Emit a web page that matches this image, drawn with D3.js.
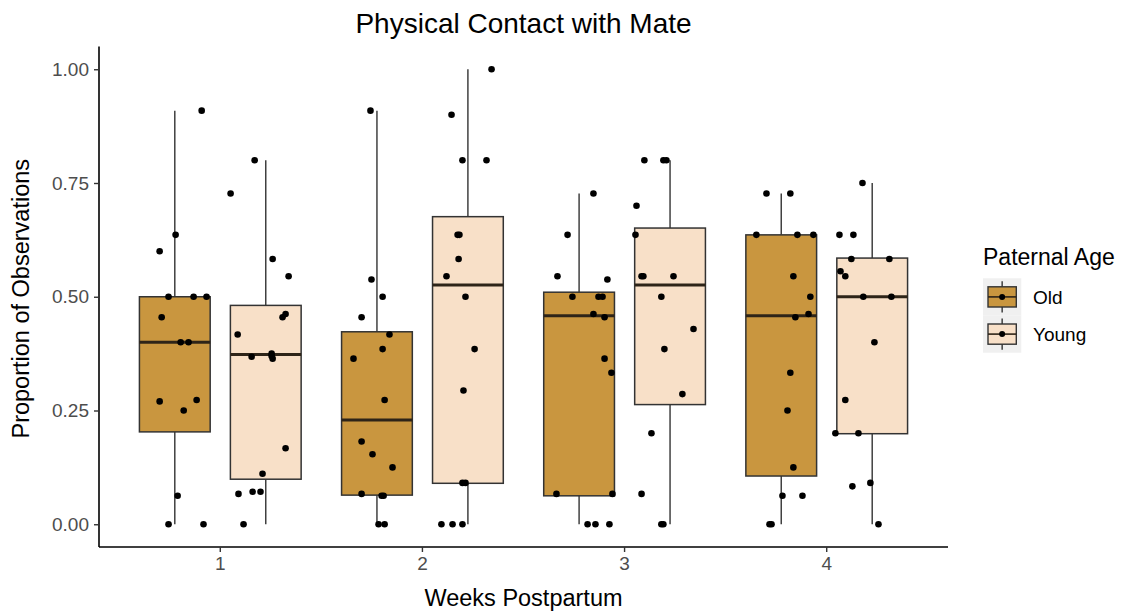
<!DOCTYPE html>
<html>
<head>
<meta charset="utf-8">
<script src="https://cdn.jsdelivr.net/npm/d3@7"></script>
<style>
  html, body { margin: 0; padding: 0; background: #ffffff; }
  svg { display: block; font-family: "Liberation Sans", Arial, sans-serif; }
</style>
</head>
<body>
<svg id="chart" width="1125" height="614"></svg>
<script>
// ---- data ----------------------------------------------------------------
const weeks = ["1", "2", "3", "4"];
const groups = ["Old", "Young"];
const groupColors = ["#C9963F", "#F8E0C8"];
const yTicks = [0, 0.25, 0.5, 0.75, 1.0];

// box summaries per week: lower whisker, Q1, median, Q3, upper whisker
const oldLow    = [0, 0, 0, 0];
const oldQ1     = [0.203, 0.064, 0.0625, 0.106];
const oldMedian = [0.40, 0.229, 0.458, 0.458];
const oldQ3     = [0.50, 0.423, 0.51, 0.636];
const oldHigh   = [0.909, 0.909, 0.727, 0.727];

const youngLow    = [0, 0, 0, 0];
const youngQ1     = [0.099, 0.090, 0.263, 0.199];
const youngMedian = [0.373, 0.526, 0.526, 0.50];
const youngQ3     = [0.481, 0.676, 0.651, 0.585];
const youngHigh   = [0.80, 1.0, 0.80, 0.75];

// individual observations (proportion) with their horizontal jitter (in week units)
const oldW1 = [0.909, 0.636, 0.60, 0.50, 0.50, 0.50, 0.455, 0.40, 0.40, 0.27, 0.273, 0.25, 0.0625, 0, 0];
const oldW1Jit = [0.133, 0.004, -0.075, -0.031, 0.093, 0.157, -0.065, 0.029, 0.068, -0.075, 0.108, 0.044, 0.014, -0.031, 0.142];
const youngW1 = [0.80, 0.727, 0.583, 0.545, 0.455, 0.462, 0.417, 0.368, 0.375, 0.364, 0.37, 0.167, 0.111, 0.0667, 0.0714, 0.0714, 0];
const youngW1Jit = [-0.055, -0.174, 0.034, 0.113, 0.083, 0.098, -0.139, -0.070, 0.029, 0.034, 0.029, 0.098, -0.016, -0.135, -0.065, -0.026, -0.110];

const oldW2 = [0.909, 0.538, 0.50, 0.455, 0.417, 0.385, 0.364, 0.273, 0.182, 0.154, 0.125, 0.0667, 0.0625, 0.0625, 0, 0];
const oldW2Jit = [-0.032, -0.027, 0.028, -0.076, 0.062, 0.028, -0.116, 0.038, -0.076, -0.022, 0.077, -0.076, 0.023, 0.033, 0.008, 0.038];
const youngW2 = [1.0, 0.90, 0.80, 0.80, 0.636, 0.636, 0.583, 0.545, 0.50, 0.385, 0.294, 0.0909, 0.0909, 0, 0, 0];
const youngW2Jit = [0.117, -0.081, -0.027, 0.092, -0.051, -0.042, -0.046, -0.106, -0.012, 0.033, -0.022, -0.027, -0.012, -0.131, -0.076, -0.027];

const oldW3 = [0.727, 0.636, 0.545, 0.538, 0.50, 0.50, 0.50, 0.462, 0.455, 0.364, 0.333, 0.0667, 0.0667, 0, 0, 0];
const oldW3Jit = [0.071, -0.057, -0.107, 0.140, -0.033, 0.096, 0.116, 0.071, 0.126, 0.126, 0.160, -0.112, 0.165, 0.042, 0.081, 0.150];
const youngW3 = [0.80, 0.80, 0.80, 0.70, 0.636, 0.545, 0.545, 0.545, 0.50, 0.429, 0.385, 0.286, 0.20, 0.0667, 0, 0];
const youngW3Jit = [-0.127, -0.033, -0.018, -0.166, -0.171, -0.141, -0.132, 0.017, -0.043, 0.116, -0.028, 0.061, -0.092, -0.141, -0.043, -0.033];

const oldW4 = [0.727, 0.727, 0.636, 0.636, 0.636, 0.545, 0.50, 0.455, 0.462, 0.333, 0.25, 0.125, 0.0625, 0.0625, 0, 0];
const oldW4Jit = [-0.073, 0.045, -0.123, 0.080, 0.159, 0.060, 0.144, 0.070, 0.135, 0.045, 0.031, 0.060, 0.006, 0.105, -0.058, -0.048];
const youngW4 = [0.75, 0.636, 0.636, 0.583, 0.583, 0.556, 0.545, 0.50, 0.50, 0.40, 0.273, 0.20, 0.20, 0.0833, 0.0909, 0];
const youngW4Jit = [-0.048, -0.162, -0.093, -0.103, 0.085, -0.157, -0.133, -0.044, 0.095, 0.011, -0.133, -0.182, -0.068, -0.098, -0.009, 0.031];

// ---- assemble -----------------------------------------------------------
const boxStats = {
  Old:   { low: oldLow, q1: oldQ1, med: oldMedian, q3: oldQ3, high: oldHigh },
  Young: { low: youngLow, q1: youngQ1, med: youngMedian, q3: youngQ3, high: youngHigh }
};
const pointSets = {
  Old:   [[oldW1, oldW1Jit], [oldW2, oldW2Jit], [oldW3, oldW3Jit], [oldW4, oldW4Jit]],
  Young: [[youngW1, youngW1Jit], [youngW2, youngW2Jit], [youngW3, youngW3Jit], [youngW4, youngW4Jit]]
};

const boxes = [];
const points = [];
groups.forEach(g => {
  weeks.forEach((w, i) => {
    const s = boxStats[g];
    boxes.push({ week: w, group: g, low: s.low[i], q1: s.q1[i], med: s.med[i], q3: s.q3[i], high: s.high[i] });
    const [vals, jit] = pointSets[g][i];
    vals.forEach((v, k) => points.push({ week: w, group: g, value: v, jitter: jit[k] }));
  });
});

// ---- layout --------------------------------------------------------------
const svg = d3.select("#chart");
const panel = { left: 99, right: 948, top: 46.5, bottom: 547 };

const x = d3.scaleBand()
  .domain(weeks)
  .range([panel.left, panel.right])
  .paddingInner(0)
  .paddingOuter(0.1);
const step = x.step();

// dodge inside each week (total dodge width 0.9 of a week)
const xg = d3.scaleBand()
  .domain(groups)
  .range([0.05 * step, 0.95 * step]);
const boxWidth = 0.35 * step;

const y = d3.scaleLinear()
  .domain([-0.05, 1.05])
  .range([panel.bottom, panel.top]);

const color = d3.scaleOrdinal().domain(groups).range(groupColors);

const groupCenter = d => x(d.week) + xg(d.group) + xg.bandwidth() / 2;

const ink = "#333333";

// ---- boxplots --------------------------------------------------------------
const gBox = svg.append("g");
const bx = gBox.selectAll("g.box").data(boxes).join("g").attr("class", "box");

bx.append("line")
  .attr("x1", groupCenter).attr("x2", groupCenter)
  .attr("y1", d => y(d.high)).attr("y2", d => y(d.q3))
  .attr("stroke", ink).attr("stroke-width", 1.4);
bx.append("line")
  .attr("x1", groupCenter).attr("x2", groupCenter)
  .attr("y1", d => y(d.q1)).attr("y2", d => y(d.low))
  .attr("stroke", ink).attr("stroke-width", 1.4);
bx.append("rect")
  .attr("x", d => groupCenter(d) - boxWidth / 2)
  .attr("width", boxWidth)
  .attr("y", d => y(d.q3))
  .attr("height", d => y(d.q1) - y(d.q3))
  .attr("fill", d => color(d.group))
  .attr("stroke", ink).attr("stroke-width", 1.5);
bx.append("line")
  .attr("x1", d => groupCenter(d) - boxWidth / 2)
  .attr("x2", d => groupCenter(d) + boxWidth / 2)
  .attr("y1", d => y(d.med)).attr("y2", d => y(d.med))
  .attr("stroke", "#2e2418").attr("stroke-width", 3);

// ---- jittered observations -------------------------------------------------
svg.append("g").selectAll("circle").data(points).join("circle")
  .attr("cx", d => groupCenter(d) + d.jitter * step)
  .attr("cy", d => y(d.value))
  .attr("r", 3.3)
  .attr("fill", "#000000");

// ---- axes ---------------------------------------------------------------------
const xAxis = svg.append("g")
  .attr("transform", `translate(0,${panel.bottom})`)
  .call(d3.axisBottom(x).tickSizeOuter(0).tickSize(5).tickPadding(5));
const yAxis = svg.append("g")
  .attr("transform", `translate(${panel.left},0)`)
  .call(d3.axisLeft(y).tickValues(yTicks).tickFormat(d3.format(".2f")).tickSizeOuter(0).tickSize(5).tickPadding(5));

[xAxis, yAxis].forEach(a => {
  a.select(".domain").attr("stroke", "#000000").attr("stroke-width", 1.6);
  a.selectAll(".tick line").attr("stroke", "#333333").attr("stroke-width", 1.4);
  a.selectAll(".tick text")
    .attr("fill", "#4D4D4D")
    .style("font-size", "19px")
    .style("font-family", "'Liberation Sans', Arial, sans-serif");
});
// extend axis lines across the full panel
xAxis.select(".domain").attr("d", `M${panel.left},0H${panel.right}`);
yAxis.select(".domain").attr("d", `M0,${panel.top}V${panel.bottom}`);

// ---- titles ------------------------------------------------------------------
const midX = (panel.left + panel.right) / 2;
svg.append("text")
  .attr("x", midX).attr("y", 33)
  .attr("text-anchor", "middle")
  .attr("fill", "#000000")
  .style("font-size", "28px")
  .text("Physical Contact with Mate");

svg.append("text")
  .attr("x", midX).attr("y", 606)
  .attr("text-anchor", "middle")
  .attr("fill", "#000000")
  .style("font-size", "23.5px")
  .text("Weeks Postpartum");

svg.append("text")
  .attr("transform", `translate(29,${(panel.top + panel.bottom) / 2 + 2}) rotate(-90)`)
  .attr("text-anchor", "middle")
  .attr("fill", "#000000")
  .style("font-size", "23.5px")
  .text("Proportion of Observations");

// ---- legend -------------------------------------------------------------------
const legend = svg.append("g").attr("transform", "translate(983,0)");
legend.append("text")
  .attr("x", 0).attr("y", 265)
  .attr("fill", "#000000")
  .style("font-size", "23px")
  .text("Paternal Age");

const keyH = 37.2, keyW = 38.3, keyTop = 278.3;
const key = legend.selectAll("g.key").data(groups).join("g")
  .attr("class", "key")
  .attr("transform", (d, i) => `translate(0,${keyTop + i * keyH})`);
key.append("rect")
  .attr("width", keyW).attr("height", keyH)
  .attr("fill", "#F0F0F0");
key.append("line")
  .attr("x1", keyW / 2).attr("x2", keyW / 2)
  .attr("y1", 3).attr("y2", keyH - 3)
  .attr("stroke", ink).attr("stroke-width", 1.4);
key.append("rect")
  .attr("x", 5).attr("y", 8.5)
  .attr("width", keyW - 10).attr("height", keyH - 17)
  .attr("fill", d => color(d))
  .attr("stroke", ink).attr("stroke-width", 1.4);
key.append("line")
  .attr("x1", 5).attr("x2", keyW - 5)
  .attr("y1", keyH / 2).attr("y2", keyH / 2)
  .attr("stroke", "#2e2418").attr("stroke-width", 1.6);
key.append("circle")
  .attr("cx", keyW / 2).attr("cy", keyH / 2).attr("r", 3)
  .attr("fill", "#000000");
key.append("text")
  .attr("x", 50).attr("y", keyH / 2)
  .attr("dy", "0.35em")
  .attr("fill", "#000000")
  .style("font-size", "19px")
  .text(d => d);
</script>
</body>
</html>
